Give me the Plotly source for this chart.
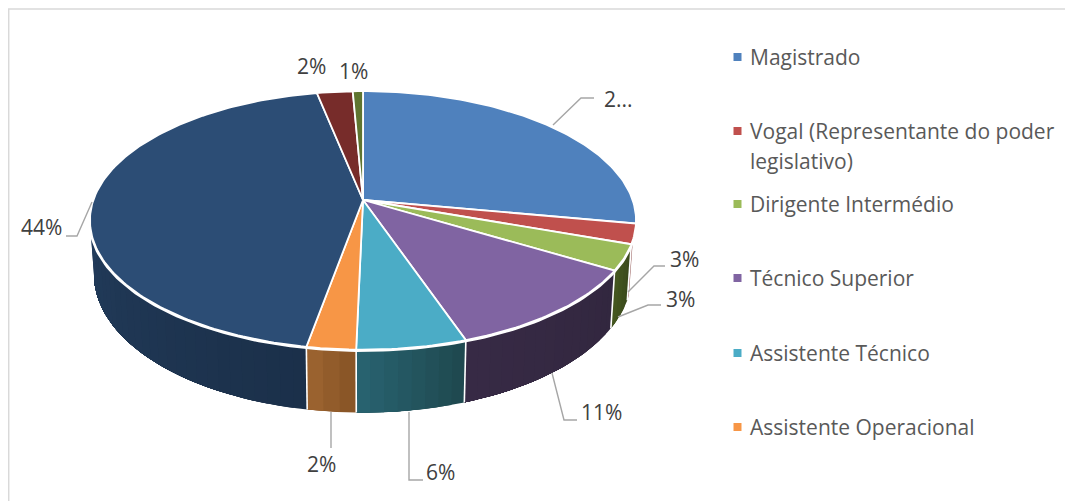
import numpy as np
import plotly.graph_objects as go

categories = ["Magistrado", "Vogal (Representante do poder legislativo)", "Dirigente Intermédio",
              "Técnico Superior", "Assistente Técnico", "Assistente Operacional",
              "Outros", "Outros 2", "Outros 3"]
values = [27.9, 2.5, 3.2, 11.14, 5.6, 2.5, 44.0, 2.46, 0.7]
value_labels = ["2...", "3%", "3%", "11%", "6%", "2%", "44%", "2%", "1%"]
top_colors = ["#4F81BD", "#C0504D", "#9BBB59", "#8064A2", "#4BACC6", "#F79646", "#2C4D75", "#772C2A", "#5F7530"]
wall_from = ["#2F4D71", "#8A4A48", "#3B4A1C", "#32273F", "#1F4950", "#8A5627", "#1B304A", "#4A1B1A", "#3A481D"]
wall_to = ["#2F4D71", "#8A4A48", "#44561F", "#372A45", "#28626F", "#9A622F", "#243F60", "#4A1B1A", "#3A481D"]
legend_labels = ["Magistrado", "Vogal (Representante do poder", "legislativo)", "Dirigente Intermédio",
                 "Técnico Superior", "Assistente Técnico", "Assistente Operacional"]
legend_colors = ["#4F81BD", "#C0504D", None, "#9BBB59", "#8064A2", "#4BACC6", "#F79646"]
legend_y = [57, 131, 161, 204, 278, 353, 427]

# label centre positions and leader polylines
label_pos = [(618, 99), (684, 259), (680, 299), (601, 412), (440, 472), (321, 464), (41, 227), (311, 66), (353, 71)]
leaders = [[(553, 125), (581, 98), (594, 98)],
           [(628, 292), (654, 266), (665, 266)],
           [(618, 317), (648, 305), (661, 305)],
           [(552, 373), (564, 420), (577, 420)],
           [(409, 412), (409, 480), (423, 480)],
           [(331, 412), (331, 448)],
           [(92, 202), (77, 236), (66, 236)],
           None, None]

CX, CY, R, RV, K = 363.0, 200.0, 269.6, 126.0, 0.158
DEPTH, SHRINK = 53.0, 0.985
WALL_START, WALL_END = 107.6, 288.0
PAGE_MARGIN = 8  # the browser page's own body margin


def project(theta_deg, lower=False):
    t = np.radians(theta_deg)
    X, Y = np.sin(t), np.cos(t)
    s = 1.0 / (1.0 + K * Y)
    x = R * X * s
    y = -RV * Y * s
    if lower:
        return CX + x * SHRINK, CY + y + DEPTH * s
    return CX + x, CY + y


def mix(c1, c2, f):
    a = [int(c1[i:i + 2], 16) for i in (1, 3, 5)]
    b = [int(c2[i:i + 2], 16) for i in (1, 3, 5)]
    return "rgb(%d,%d,%d)" % tuple(round(p + (q - p) * f) for p, q in zip(a, b))


total = sum(values)
edges = np.concatenate([[0.0], np.cumsum(values) / total * 360.0])
fig = go.Figure()

# side walls, as shaded strips; each strip runs under the next one so no seams show
for i in range(len(values)):
    a, b = max(edges[i], WALL_START), min(edges[i + 1], WALL_END)
    if b <= a:
        continue
    n = max(1, int((b - a) / 2.5))
    th = np.linspace(a, b, n + 1)
    for j in range(n):
        f = j / max(1, n - 1)
        arc = np.linspace(th[j], b, 2 + int((b - th[j]) / 2.0))
        ux, uy = project(arc)
        lx, ly = project(arc[::-1], True)
        col = mix(wall_from[i], wall_to[i], f)
        fig.add_trace(go.Scatter(x=np.concatenate([ux, lx, ux[:1]]), y=np.concatenate([uy, ly, uy[:1]]),
                                 mode="lines", fill="toself", fillcolor=col, line=dict(width=0),
                                 hoverinfo="skip", showlegend=False))

# white separators between the walls
for e in edges[1:]:
    if WALL_START < e < WALL_END:
        x1, y1 = project(e)
        x2, y2 = project(e, True)
        fig.add_trace(go.Scatter(x=[x1, x2], y=[y1, y2], mode="lines", line=dict(color="white", width=1.6),
                                 hoverinfo="skip", showlegend=False))

# white rim under the top face
th = np.linspace(100, 290, 160)
rx, ry = project(th)
fig.add_trace(go.Scatter(x=rx, y=ry + 0.8, mode="lines", line=dict(color="white", width=3),
                         hoverinfo="skip", showlegend=False))

# top face
for i, (name, col) in enumerate(zip(categories, top_colors)):
    th = np.linspace(edges[i], edges[i + 1], max(3, int((edges[i + 1] - edges[i]) / 1.0)))
    px, py = project(th)
    xs = np.concatenate([[CX], px, [CX]])
    ys = np.concatenate([[CY], py, [CY]])
    fig.add_trace(go.Scatter(x=xs, y=ys, mode="lines", fill="toself", fillcolor=col,
                             line=dict(color="white", width=1.8), name=name,
                             text=f"{name}: {value_labels[i]}", hoverinfo="text", showlegend=False))

# leader lines
for pts in leaders:
    if pts:
        fig.add_trace(go.Scatter(x=[p[0] for p in pts], y=[p[1] for p in pts], mode="lines",
                                 line=dict(color="#A6A6A6", width=1.4), hoverinfo="skip", showlegend=False))

# value labels
for txt, (x, y) in zip(value_labels, label_pos):
    fig.add_annotation(x=x, y=y, text=txt, showarrow=False, xref="x", yref="y",
                       font=dict(family="Open Sans", size=21, color="#404040"))

# legend
for txt, col, y in zip(legend_labels, legend_colors, legend_y):
    if col:
        fig.add_trace(go.Scatter(x=[737.5], y=[y], mode="markers",
                                 marker=dict(symbol="square", size=8, color=col), hoverinfo="skip", showlegend=False))
    fig.add_annotation(x=747.5, y=y, text=txt, showarrow=False, xref="x", yref="y", xanchor="left",
                       font=dict(family="Open Sans", size=21, color="#595959"))

fig.add_shape(type="line", xref="x", yref="y", x0=8, x1=1073, y0=9, y1=9, line=dict(color="#D9D9D9", width=1.5))
fig.add_shape(type="line", xref="x", yref="y", x0=8.7, x1=8.7, y0=9, y1=501, line=dict(color="#D9D9D9", width=1.5))

fig.update_layout(width=1073 - PAGE_MARGIN, height=501 - PAGE_MARGIN, margin=dict(l=0, r=0, t=0, b=0),
                  paper_bgcolor="white", plot_bgcolor="white", showlegend=False,
                  xaxis=dict(range=[PAGE_MARGIN, 1073], visible=False, fixedrange=True),
                  yaxis=dict(range=[501, PAGE_MARGIN], visible=False, fixedrange=True))
fig.write_html("out.html")
